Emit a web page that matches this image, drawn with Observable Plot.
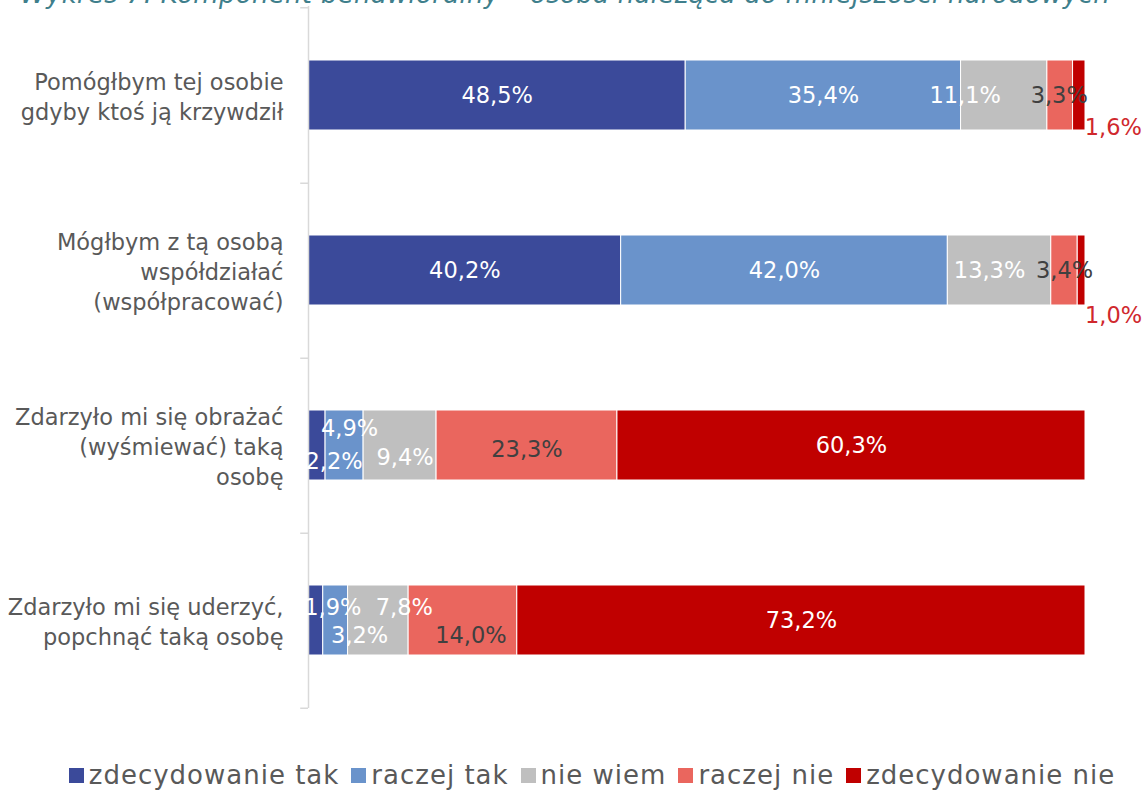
<!DOCTYPE html>
<html>
<head>
<meta charset="utf-8">
<script src="https://cdn.jsdelivr.net/npm/d3@7"></script>
<script src="https://cdn.jsdelivr.net/npm/@observablehq/plot@0.6"></script>
<style>
  html, body { margin: 0; padding: 0; background: #fff; overflow: hidden; }
  body { position: relative; width: 1148px; height: 792px; font-family: "DejaVu Sans", sans-serif; }
  #title { position: absolute; left: 20px; top: -19px; font-size: 26px; line-height: 26px; font-style: italic; color: #3f7f8c; white-space: nowrap; letter-spacing: 0.3px; }
  #chart { position: absolute; left: 0; top: 0; }
  #legend { position: absolute; left: 0; top: 760px; width: 1148px; display: flex; justify-content: center; align-items: center; padding-left: 48px; box-sizing: border-box; font-size: 26px; letter-spacing: 1px; color: #595959; }
  #legend .item { display: flex; align-items: center; margin-right: 12px; }
  #legend .sw { width: 15px; height: 15px; margin-right: 5px; }
</style>
</head>
<body>
<div id="title">Wykres 7. Komponent behawioralny – osoba należąca do mniejszości narodowych</div>
<div id="chart"></div>
<div id="legend"></div>
<script>
const categories = [
  "Pomógłbym tej osobie\ngdyby ktoś ją krzywdził",
  "Mógłbym z tą osobą\nwspółdziałać\n(współpracować)",
  "Zdarzyło mi się obrażać\n(wyśmiewać) taką\nosobę",
  "Zdarzyło mi się uderzyć,\npopchnąć taką osobę"
];
const answers = ["zdecydowanie tak", "raczej tak", "nie wiem", "raczej nie", "zdecydowanie nie"];
const helpValues      = [48.5, 35.4, 11.1, 3.3, 1.6];
const cooperateValues = [40.2, 42.0, 13.3, 3.4, 1.0];
const insultValues    = [2.2, 4.9, 9.4, 23.3, 60.3];
const hitValues       = [1.9, 3.2, 7.8, 14.0, 73.2];
const rows = [helpValues, cooperateValues, insultValues, hitValues];

const colors = ["#3b4a9a", "#6a93cb", "#bfbfbf", "#ea665e", "#c00000"];

// label nudges (styling only): [dx, dy] per row / answer, mimicking Excel's label layout
const nudges = [
  [[0,0],[0,0],[-39,0],[-1,0],[34,32]],
  [[0,0],[0,0],[-10,0],[0,0],[32,45]],
  [[17,16],[5,-17],[5,12],[0,4],[0,0]],
  [[17,-13],[24,15],[26,-13],[8,15],[0,0]]
];

const data = categories.flatMap((c, i) => answers.map((a, j) => ({cat: c, answer: a, value: rows[i][j], i, j})));

const labels = [];
categories.forEach((c, i) => {
  const vals = rows[i];
  const total = d3.sum(vals);
  const cum = d3.cumsum(vals);
  vals.forEach((v, j) => {
    const outside = (i < 2 && j === 4);
    labels.push({
      cat: c, i, j,
      mid: (cum[j] - v / 2) / total,
      text: v.toFixed(1).replace(".", ",") + "%",
      fill: outside ? "#d0282d" : (j === 3 ? "#404040" : "#ffffff")
    });
  });
});

const labelMarks = labels.map(l => Plot.text([l], {
  x: "mid", y: "cat", text: "text",
  dx: nudges[l.i][l.j][0], dy: nudges[l.i][l.j][1],
  fill: l.fill, fontSize: 22.5
}));

const chart = Plot.plot({
  width: 1148,
  height: 710,
  marginLeft: 308,
  marginRight: 63,
  marginTop: 6,
  marginBottom: 2,
  style: {fontFamily: "DejaVu Sans, sans-serif", background: "transparent"},
  x: {domain: [0, 1], axis: null},
  y: {domain: categories, paddingInner: 0.6, paddingOuter: 0.3, axis: null},
  color: {domain: answers, range: colors},
  marks: [
    Plot.barX(data, Plot.stackX({
      x: "value", y: "cat", fill: "answer", offset: "normalize", order: answers,
      stroke: "#ffffff", strokeWidth: 1
    })),
    Plot.ruleX([0], {stroke: "#d9d9d9", strokeWidth: 1.5}),
    Plot.ruleY(categories, {y: d => d, x1: -0.01, x2: 0, dy: 87.75, stroke: "#d9d9d9", strokeWidth: 1.5}),
    Plot.ruleY(categories.slice(0, 1), {y: d => d, x1: -0.01, x2: 0, dy: -87.75, stroke: "#d9d9d9", strokeWidth: 1.5}),
    Plot.text(categories, {
      x: 0, y: d => d, text: d => d, dx: -25, textAnchor: "end",
      fill: "#595959", fontSize: 22.5, lineHeight: 1.32
    }),
    ...labelMarks
  ]
});
document.getElementById("chart").appendChild(chart);

const legend = document.getElementById("legend");
answers.forEach((a, j) => {
  const item = document.createElement("div");
  item.className = "item";
  const sw = document.createElement("div");
  sw.className = "sw";
  sw.style.background = colors[j];
  const t = document.createElement("span");
  t.textContent = a;
  item.appendChild(sw);
  item.appendChild(t);
  legend.appendChild(item);
});
</script>
</body>
</html>
